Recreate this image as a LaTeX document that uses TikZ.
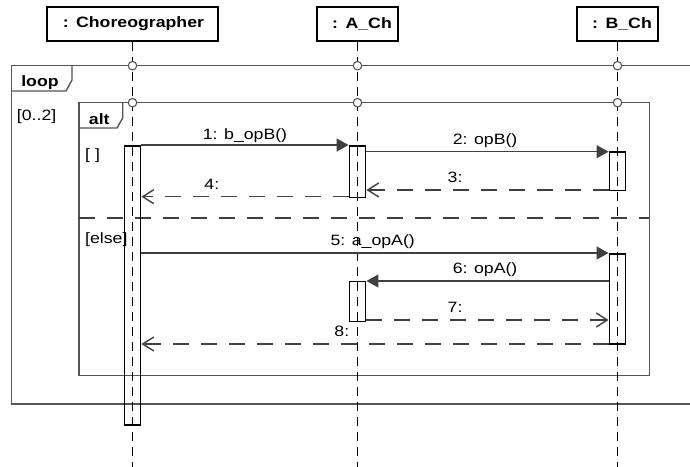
\documentclass[tikz,border=0pt]{standalone}
\usepackage{fontspec}
\setmainfont{Liberation Sans}[FakeStretch=1.18]
\usetikzlibrary{arrows.meta}
\definecolor{ln}{HTML}{404040}
\definecolor{fr}{HTML}{555555}
\begin{document}
\begin{tikzpicture}[x=1pt,y=-1pt,
  txt/.style={font=\fontsize{15}{17}\selectfont, inner sep=0pt},
  btxt/.style={font=\fontsize{15}{17}\selectfont\bfseries, inner sep=0pt},
  headbox/.style={draw=black, line width=1.4pt, fill=white, font=\fontsize{15}{17}\selectfont\bfseries, align=right, minimum height=34pt, inner ysep=0pt},
  lifeline/.style={draw=black, line width=1.8pt, dash pattern=on 9pt off 6pt},
  actbox/.style={draw=black, line width=1.4pt, minimum width=16.5pt, inner sep=0pt},
  framel/.style={draw=fr, line width=1.4pt},
  sepline/.style={draw=ln, line width=1.4pt, dash pattern=on 16pt off 12pt},
  msg/.style={draw=ln, line width=1.4pt, -{Triangle[length=12pt,width=13pt]}},
  ret/.style={draw=ln, line width=1.4pt, dash pattern=on 16pt off 12pt, -{Straight Barb[length=11pt,width=14pt]}},
  gate/.style={circle, draw=fr, fill=white, line width=1.1pt, minimum size=8.5pt, inner sep=0pt},
  lab/.style={txt, anchor=base, yshift=7.5pt},
]
\useasboundingbox (0,0) rectangle (690,466);
\clip (0,0) rectangle (690,466);

% frames
\draw[framel] (700,65.7) -- (11.7,65.7) -- (11.7,404) -- (700,404);
\draw[framel] (11.7,91) -- (66,91) -- (72,80) -- (72,65.7);
\node[btxt, anchor=base] (looplab) at (40,86.5) {loop};
\node[txt, anchor=base west] (loopguard) at (16.7,120) {[0..2]};

\draw[framel] (79,102.7) rectangle (649.3,375.7);
\draw[framel] (79,128) -- (117,128) -- (122.7,118) -- (122.7,102.7);
\node[btxt, anchor=base] (altlab) at (99.3,124.3) {alt};
\node[txt, anchor=base west] (g1) at (85,159) {[ ]};
\node[txt, anchor=base west] (g2) at (85,243.5) {[else]};
\draw[sepline] (79,218) -- (649.3,218);

% heads
\node[headbox, text width=143pt, inner xsep=14pt] (C) at (132.5,24) {: Choreographer};
\node[headbox, text width=68.7pt, inner xsep=6.3pt] (A) at (357.5,24) {: A\_Ch};
\node[headbox, text width=68.7pt, inner xsep=6.3pt] (B) at (617.5,24) {: B\_Ch};

% activations
\node[actbox, minimum height=279pt] (cact) at (132.5,285.5) {};
\node[actbox, minimum height=51.7pt] (aact1) at (357.5,171.85) {};
\node[actbox, minimum height=38.7pt] (bact1) at (617.5,171.35) {};
\node[actbox, minimum height=90pt] (bact2) at (617.5,299) {};
\node[actbox, minimum height=40pt] (aact2) at (357.5,301.7) {};

% lifelines
\coordinate (Cend) at (132.5,470);
\coordinate (Aend) at (357.5,470);
\coordinate (Bend) at (617.5,470);
\draw[lifeline] (C.south) -- (Cend);
\draw[lifeline] (A.south) -- (Aend);
\draw[lifeline] (B.south) -- (Bend);

% message levels
\coordinate (y1) at (0,145);
\coordinate (y2) at (0,151.7);
\coordinate (y3) at (0,190);
\coordinate (y4) at (0,196.7);
\coordinate (y5) at (0,253);
\coordinate (y6) at (0,281);
\coordinate (y7) at (0,320);
\coordinate (y8) at (0,344);

\draw[msg] (cact.east |- y1) -- node[lab, pos=0.5, yshift=-2pt] (m1) {1: b\_opB()} (aact1.west |- y1);
\draw[msg] (aact1.east |- y2) -- node[lab, pos=0.49] (m2) {2: opB()} (bact1.west |- y2);
\draw[ret] (bact1.west |- y3) -- node[lab, pos=0.634] (m3) {3:} (aact1.east |- y3);
\draw[ret] (aact1.west |- y4) -- node[lab, pos=0.66] (m4) {4:} (cact.east |- y4);
\draw[msg] (cact.east |- y5) -- node[lab, pos=0.495] (m5) {5: a\_opA()} (bact2.west |- y5);
\draw[msg] (bact2.west |- y6) -- node[lab, pos=0.51] (m6) {6: opA()} (aact2.east |- y6);
\draw[ret] (aact2.east |- y7) -- node[lab, pos=0.366] (m7) {7:} (bact2.west |- y7);
\draw[ret] (bact2.west |- y8) -- node[lab, pos=0.571] (m8) {8:} (cact.east |- y8);

% gates
\foreach \x/\n in {132.5/c,357.5/a,617.5/b} {
  \node[gate] (gl\n) at (\x,65.7) {};
  \node[gate] (ga\n) at (\x,102.7) {};
}
\end{tikzpicture}
\end{document}
